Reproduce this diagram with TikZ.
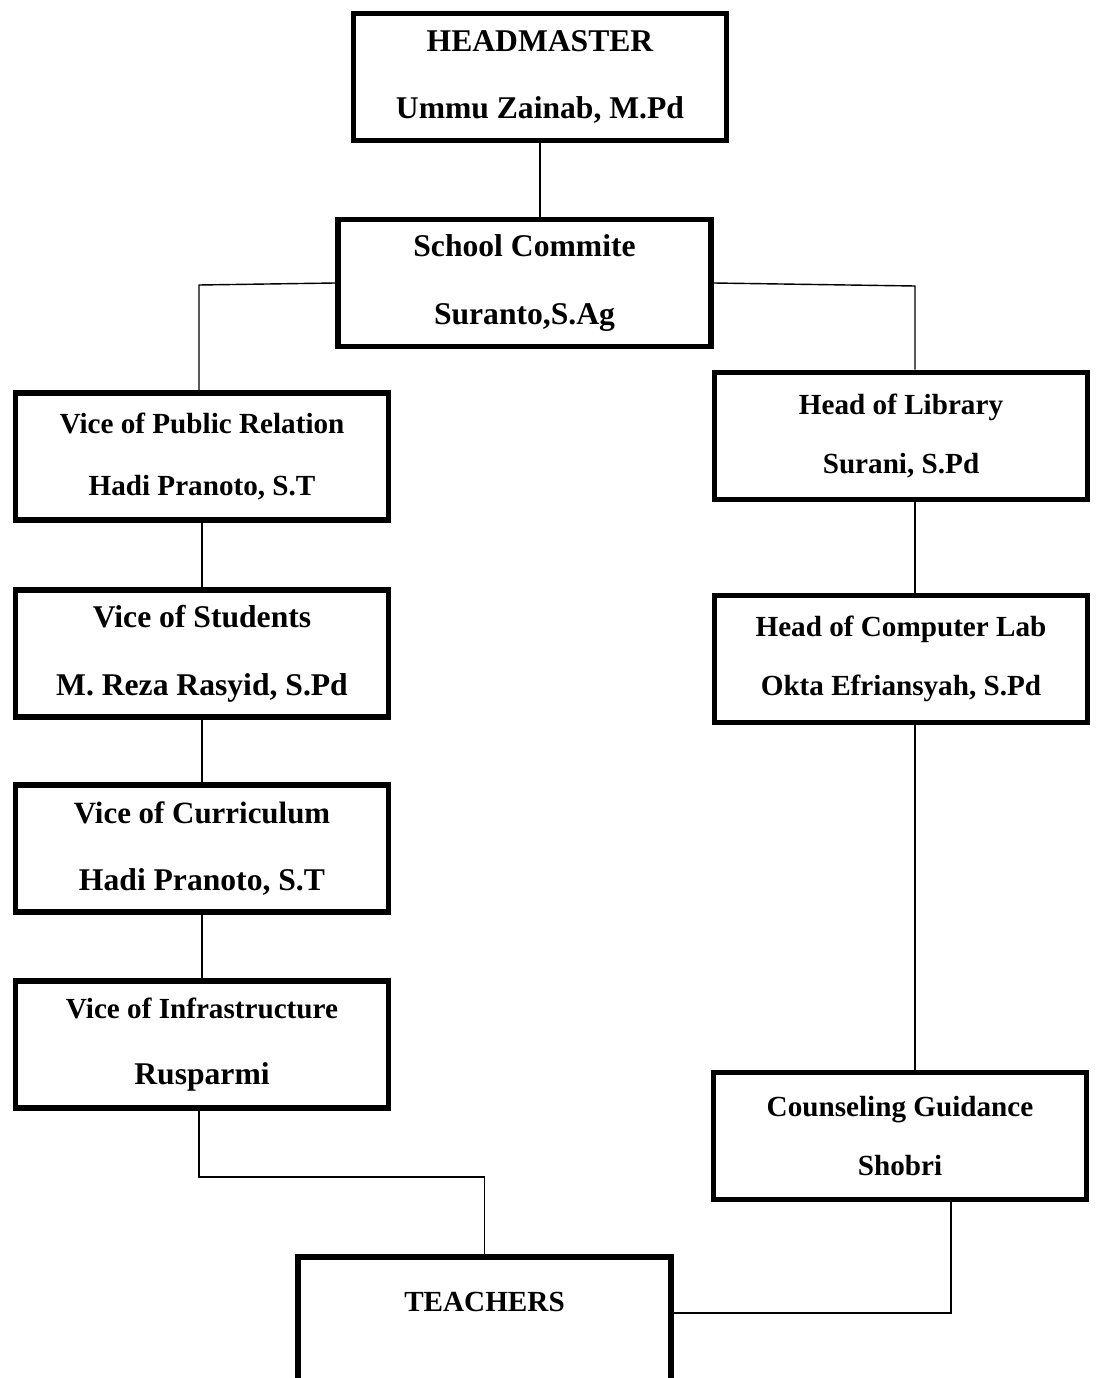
\documentclass[tikz,border=0pt]{standalone}
\usepackage{fontspec}
\setmainfont{Liberation Serif}
\newcommand{\tlarge}{\fontsize{18}{34}\selectfont}
\newcommand{\tsmall}{\fontsize{16.6}{34}\selectfont}
\tikzset{
  unit/.style={draw, line width=3.2pt, fill=white, minimum width=7.46cm, minimum height=2.54cm,
    align=center, inner sep=0pt, font=\tlarge\bfseries},
  link/.style={line width=0.8pt}
}
\begin{document}
\begin{tikzpicture}[x=0.02cm,y=-0.02cm]
\useasboundingbox (0,0) rectangle (1095,1378);
\clip (0,0) rectangle (1095,1378);

% top
\node[unit] (head) at (540,77) {HEADMASTER\\[4.5pt]Ummu Zainab, M.Pd};
\node[unit] (comm) at (524.5,283) {School Commite\\[4.5pt]Suranto,S.Ag};

% left column
\node[unit] (pr)  at (202,456.5)  {\tsmall Vice of Public Relation\\[1pt]\tsmall Hadi Pranoto, S.T};
\node[unit] (stu) at (202,653.5)  {Vice of Students\\[4.5pt]M. Reza Rasyid, S.Pd};
\node[unit] (cur) at (202,848.5)  {\fontsize{17.6}{34}\selectfont Vice of Curriculum\\[4.5pt]Hadi Pranoto, S.T};
\node[unit] (inf) at (202,1044.5) {\tsmall Vice of Infrastructure\\[4pt]Rusparmi};

% right column
\node[unit] (lib) at (901,436) {\tsmall Head of Library\\\tsmall Surani, S.Pd};
\node[unit] (lab) at (901,659) {\tsmall Head of Computer Lab\\\tsmall Okta Efriansyah, S.Pd};
\node[unit] (bk)  at (900,1136) {\tsmall Counseling Guidance\\\tsmall Shobri};

% bottom
\node[unit, anchor=north, minimum height=5cm,
  label={[anchor=center, yshift=-0.96cm, font=\tsmall\bfseries]north:TEACHERS}]
  (tch) at (484.5,1254) {};

\coordinate (lj) at (199,285);
\coordinate (rj) at (915,286);
\coordinate (bj) at (951,1313);

\draw[link] (head.south) -- (head.south |- comm.north);
\draw[link] (comm.west) -- (lj) -- (lj |- pr.north);
\draw[link] (comm.east) -- (rj) -- (rj |- lib.north);
\draw[link] (pr) -- (stu);
\draw[link] (stu) -- (cur);
\draw[link] (cur) -- (inf);
\draw[link] (lib.south -| rj) -- (lab.north -| rj);
\draw[link] (lab.south -| rj) -- (bk.north -| rj);
\draw[link] (inf.south -| lj) -- ++(0,66) -| (tch.north);
\draw[link] (bk.south -| bj) -- (bj) -- (bj -| tch.east);

\end{tikzpicture}
\end{document}
